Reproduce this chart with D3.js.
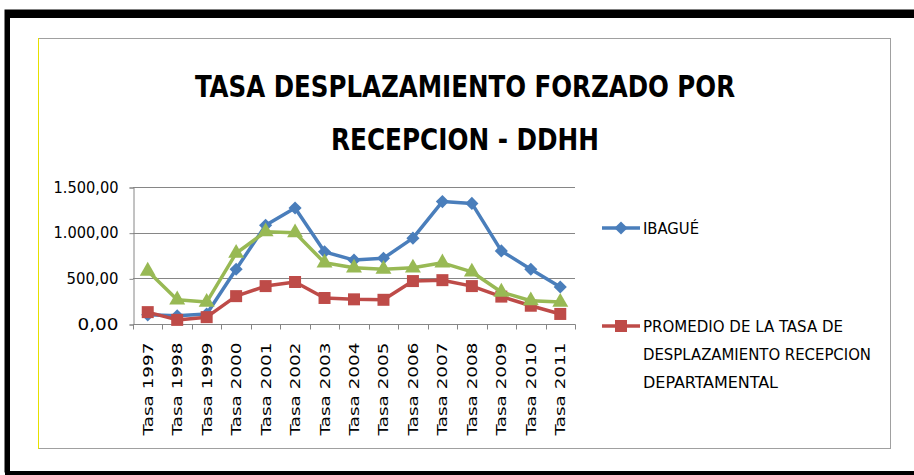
<!DOCTYPE html>
<html>
<head>
<meta charset="utf-8">
<script src="https://cdn.jsdelivr.net/npm/d3@7"></script>
<style>
  body { margin: 0; background: #fff; }
  svg { display: block; }
</style>
</head>
<body>
<svg id="board" width="914" height="475"></svg>
<script>
const years = ["1997","1998","1999","2000","2001","2002","2003","2004","2005","2006","2007","2008","2009","2010","2011"];
const categories = years.map(y => "Tasa " + y);
const ibague = [100, 90, 110, 600, 1080, 1270, 790, 700, 720, 940, 1340, 1320, 800, 600, 405];
const promedio = [130, 45, 75, 305, 415, 460, 285, 270, 265, 470, 480, 415, 300, 200, 110];
const tercera = [580, 265, 240, 775, 1010, 1000, 670, 615, 600, 615, 670, 570, 350, 255, 240];
const yTicks = [0, 500, 1000, 1500];
const titleLines = ["TASA DESPLAZAMIENTO FORZADO POR", "RECEPCION - DDHH"];

const board = d3.select("#board");
const fmt = v => d3.format(",.2f")(v).replace(/,/g, "#").replace(".", ",").replace(/#/g, ".");

// frame
board.append("rect").attr("x", 0).attr("y", 0).attr("width", 914).attr("height", 475).attr("fill", "#fff");
board.append("rect").attr("x", 5).attr("y", 10).attr("width", 920).attr("height", 462)
    .attr("fill", "none").attr("stroke", "#000").attr("stroke-width", 1);
board.append("rect").attr("x", 5).attr("y", 10).attr("width", 914).attr("height", 8).attr("fill", "#000");
board.append("rect").attr("x", 5).attr("y", 10).attr("width", 5).attr("height", 465).attr("fill", "#000");
board.append("rect").attr("x", 5).attr("y", 471).attr("width", 914).attr("height", 4).attr("fill", "#000");

// chart box
board.append("rect").attr("x", 38.5).attr("y", 38.5).attr("width", 852).attr("height", 410)
    .attr("fill", "#fff").attr("stroke", "#a0a0a0").attr("stroke-width", 1);
board.append("line").attr("x1", 38.5).attr("x2", 38.5).attr("y1", 38).attr("y2", 449)
    .attr("stroke", "#e6e000").attr("stroke-width", 1);

// title
board.selectAll("text.title")
    .data(titleLines)
    .join("text")
    .attr("class", "title")
    .attr("x", 465)
    .attr("y", (d, i) => 97 + i * 53)
    .attr("text-anchor", "middle")
    .attr("font-family", "'Liberation Sans Narrow', 'DejaVu Sans Condensed', sans-serif")
    .attr("font-weight", "bold")
    .attr("font-size", "30px")
    .attr("fill", "#000")
    .attr("textLength", (d, i) => i === 0 ? 540 : 268)
    .attr("lengthAdjust", "spacingAndGlyphs")
    .text(d => d);

const margin = { left: 133, right: 575, top: 187, bottom: 324 };
const x = d3.scaleBand().domain(categories).range([margin.left, margin.right]);
const y = d3.scaleLinear().domain([0, 1500]).range([margin.bottom, margin.top]);

// grid
board.append("g")
    .selectAll("line")
    .data(yTicks.slice(1))
    .join("line")
    .attr("x1", margin.left).attr("x2", margin.right)
    .attr("y1", d => Math.round(y(d)) + 0.5).attr("y2", d => Math.round(y(d)) + 0.5)
    .attr("stroke", "#868686").attr("stroke-width", 1);

// y axis
const yAxis = board.append("g")
    .attr("transform", `translate(${margin.left + 0.5},0.5)`)
    .call(d3.axisLeft(y).tickValues(yTicks).tickSize(4).tickFormat(fmt));
yAxis.selectAll("path, line").attr("stroke", "#868686");
yAxis.selectAll("text")
    .attr("x", -15)
    .attr("font-family", "'Liberation Sans Narrow', 'DejaVu Sans Condensed', sans-serif")
    .attr("font-size", "15px")
    .attr("fill", "#000")
    .attr("textLength", d => d >= 1000 ? 65 : (d > 0 ? 52 : 41))
    .attr("lengthAdjust", "spacingAndGlyphs");

// x axis
const xAxis = board.append("g")
    .attr("transform", `translate(0,${Math.round(y(0)) + 0.5})`);
xAxis.append("line").attr("x1", margin.left).attr("x2", margin.right + 0.5)
    .attr("stroke", "#868686");
xAxis.selectAll("line.tick")
    .data(d3.range(categories.length + 1))
    .join("line")
    .attr("class", "tick")
    .attr("x1", i => Math.round(margin.left + i * x.step()) + 0.5)
    .attr("x2", i => Math.round(margin.left + i * x.step()) + 0.5)
    .attr("y1", 0).attr("y2", 5)
    .attr("stroke", "#868686");
xAxis.selectAll("text")
    .data(categories)
    .join("text")
    .attr("transform", d => `translate(${x(d) + x.bandwidth() / 2 + 5},18) rotate(-90)`)
    .attr("text-anchor", "end")
    .attr("font-family", "'DejaVu Sans', sans-serif")
    .attr("font-size", "13.5px")
    .attr("fill", "#000")
    .attr("textLength", 93)
    .attr("lengthAdjust", "spacingAndGlyphs")
    .text(d => d);

// series
const series = [
    { name: "IBAGUÉ", values: ibague, color: "#4A7EBB", marker: "diamond" },
    { name: "PROMEDIO", values: promedio, color: "#BE4B48", marker: "square" },
    { name: "", values: tercera, color: "#98B954", marker: "triangle" }
];

const line = d3.line()
    .x((d, i) => x(categories[i]) + x.bandwidth() / 2)
    .y(d => y(d));

function markerPath(type) {
    if (type === "diamond") return d3.symbol(d3.symbolDiamond2, 110)();
    if (type === "square") return "M-6,-6H6V6H-6Z";
    return d3.symbol(d3.symbolTriangle, 110)();
}

series.forEach(s => {
    const g = board.append("g");
    g.append("path")
        .attr("d", line(s.values))
        .attr("fill", "none")
        .attr("stroke", s.color)
        .attr("stroke-width", 3.5)
        .attr("stroke-linejoin", "round");
    g.selectAll("path.pt")
        .data(s.values)
        .join("path")
        .attr("class", "pt")
        .attr("transform", (d, i) => `translate(${x(categories[i]) + x.bandwidth() / 2},${y(d)})`)
        .attr("d", markerPath(s.marker))
        .attr("fill", s.color);
});

// legend
const legend = [
    { lines: ["IBAGUÉ"], color: "#4A7EBB", marker: "diamond", y: 228, widths: [56] },
    { lines: ["PROMEDIO DE LA TASA DE", "DESPLAZAMIENTO RECEPCION", "DEPARTAMENTAL"], color: "#BE4B48", marker: "square", y: 326, widths: [200, 228, 135] }
];
legend.forEach(l => {
    const g = board.append("g");
    g.append("line").attr("x1", 602).attr("x2", 640).attr("y1", l.y).attr("y2", l.y)
        .attr("stroke", l.color).attr("stroke-width", 3.5);
    g.append("path").attr("transform", `translate(621,${l.y})`).attr("d", markerPath(l.marker)).attr("fill", l.color);
    g.selectAll("text")
        .data(l.lines)
        .join("text")
        .attr("x", 643)
        .attr("y", (d, i) => l.y + 6 + i * 28)
        .attr("font-family", "'Liberation Sans Narrow', 'DejaVu Sans Condensed', sans-serif")
        .attr("font-size", "15px")
        .attr("fill", "#000")
        .attr("textLength", (d, i) => l.widths[i])
        .attr("lengthAdjust", "spacingAndGlyphs")
        .text(d => d);
});
</script>
</body>
</html>
